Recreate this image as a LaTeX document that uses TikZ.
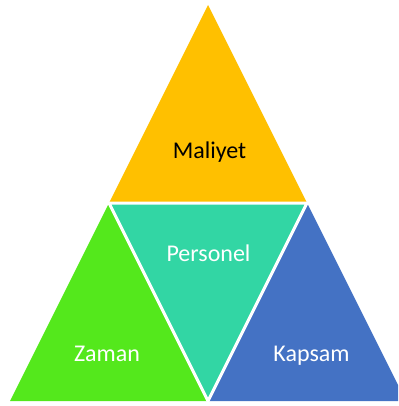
\documentclass[tikz,border=0pt]{standalone}
\usepackage{fontspec}
\setmainfont{Carlito}
\usepackage{tikz}
\definecolor{maliyetc}{RGB}{255,192,0}
\definecolor{personelc}{RGB}{50,214,164}
\definecolor{zamanc}{RGB}{84,232,28}
\definecolor{kapsamc}{RGB}{68,114,196}
\tikzset{
  gap/.style={draw=white,line width=3pt,line join=miter},
  lbl/.style={anchor=base,font=\fontsize{24}{28}\selectfont,inner sep=0pt}
}

\begin{document}
\begin{tikzpicture}[x=1pt,y=-1pt]
\useasboundingbox (0,0) rectangle (398,406);
% corners of the big triangle and midpoints
\coordinate (top) at (208,5);
\coordinate (bl) at (10,401);
\coordinate (br) at (406,401);
\coordinate (ml) at (109,203);
\coordinate (mr) at (307,203);
\coordinate (mb) at (208,401);
\begin{scope}
\clip (0,0) rectangle (398,406);
\fill[maliyetc] (top) -- (ml) -- (mr) -- cycle;
\fill[zamanc] (ml) -- (bl) -- (mb) -- cycle;
\fill[kapsamc] (mr) -- (mb) -- (br) -- cycle;
\fill[personelc] (ml) -- (mr) -- (mb) -- cycle;
\draw[gap] (ml) -- (mr) -- (mb) -- cycle;
\end{scope}

\node[lbl,text=black] (maliyet) at (209.5,158) {Maliyet};
\node[lbl,text=white] (personel) at (208.5,261) {Personel};
\node[lbl,text=white] (zaman) at (107,361) {Zaman};
\node[lbl,text=white] (kapsam) at (311.5,361) {Kapsam};
\end{tikzpicture}
\end{document}
